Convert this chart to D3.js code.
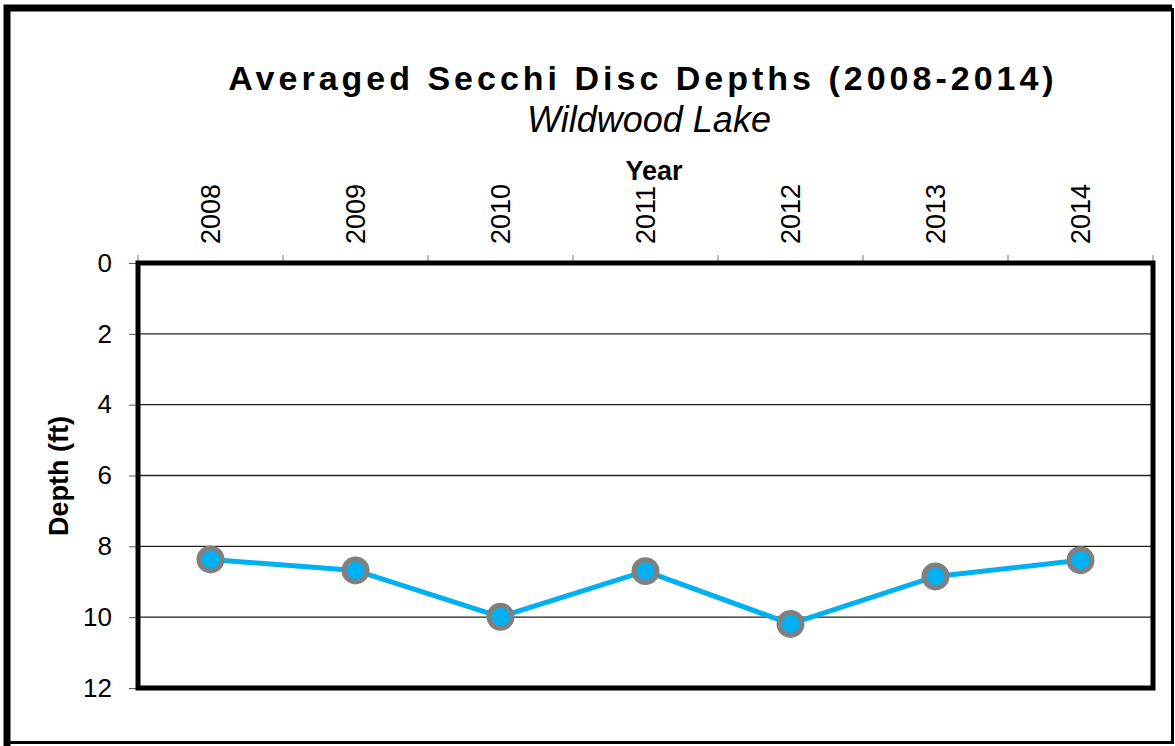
<!DOCTYPE html>
<html>
<head>
<meta charset="utf-8">
<script src="https://cdn.jsdelivr.net/npm/d3@7/dist/d3.min.js"></script>
<style>
  body { margin: 0; background: #fff; }
  svg text { font-family: Arial, "Liberation Sans", sans-serif; }
</style>
</head>
<body>
<svg id="chart" width="1175" height="746"></svg>
<script>
var years = ["2008", "2009", "2010", "2011", "2012", "2013", "2014"]
var depths = [8.37, 8.68, 9.99, 8.70, 10.19, 8.85, 8.39]
var depthTicks = [0, 2, 4, 6, 8, 10, 12]

var svg = d3.select("#chart")

// outer frame: thick left/top, thin right/bottom
svg.append("rect")
    .attr("x", 0).attr("y", 0).attr("width", 1175).attr("height", 746)
    .attr("fill", "#fff")
svg.append("path")
    .attr("d", "M7,746 L7,8 L1172,8")
    .attr("fill", "none").attr("stroke", "#000").attr("stroke-width", 7)
svg.append("path")
    .attr("d", "M7,742.5 L1172.5,742.5 L1172.5,8")
    .attr("fill", "none").attr("stroke", "#000").attr("stroke-width", 3)

var plotLeft = 138, plotRight = 1153, plotTop = 263, plotBottom = 688

var x = d3.scaleBand()
    .domain(years)
    .range([plotLeft, plotRight])

var y = d3.scaleLinear()
    .domain([0, 12])
    .range([plotTop, plotBottom])

// gridlines
svg.append("g")
    .selectAll("line")
    .data(depthTicks.slice(1, -1))
    .enter()
    .append("line")
      .attr("x1", plotLeft).attr("x2", plotRight)
      .attr("y1", d => y(d)).attr("y2", d => y(d))
      .attr("stroke", "#222").attr("stroke-width", 1.3)

// y axis
var yAxis = svg.append("g")
    .attr("transform", "translate(" + plotLeft + ",0)")
    .call(d3.axisLeft(y).tickValues(depthTicks).tickSize(9).tickPadding(17))
yAxis.select(".domain").remove()
yAxis.selectAll("line").attr("stroke", "#555")
yAxis.selectAll("text")
    .attr("font-size", 26).attr("fill", "#000")
    .attr("font-family", "Arial, 'Liberation Sans', sans-serif")

// top ticks at band edges
svg.append("g")
    .selectAll("line")
    .data(years.concat(["end"]))
    .enter()
    .append("line")
      .attr("x1", (d, i) => plotLeft + i * x.bandwidth())
      .attr("x2", (d, i) => plotLeft + i * x.bandwidth())
      .attr("y1", plotTop - 8).attr("y2", plotTop)
      .attr("stroke", "#777").attr("stroke-width", 1)

// year labels, rotated
svg.append("g")
    .selectAll("text")
    .data(years)
    .enter()
    .append("text")
      .attr("transform", d => "translate(" + (x(d) + x.bandwidth() / 2 + 9) + "," + (plotTop - 19) + ") rotate(-90)")
      .attr("font-size", 27)
      .text(d => d)

// plot frame
svg.append("rect")
    .attr("x", plotLeft).attr("y", plotTop)
    .attr("width", plotRight - plotLeft).attr("height", plotBottom - plotTop)
    .attr("fill", "none").attr("stroke", "#000").attr("stroke-width", 5)

// line + markers
var line = d3.line()
    .x((d, i) => x(years[i]) + x.bandwidth() / 2)
    .y(d => y(d))

svg.append("path")
    .datum(depths)
    .attr("d", line)
    .attr("fill", "none")
    .attr("stroke", "#00B0F0")
    .attr("stroke-width", 5)

svg.append("g")
    .selectAll("circle")
    .data(depths)
    .enter()
    .append("circle")
      .attr("cx", (d, i) => x(years[i]) + x.bandwidth() / 2)
      .attr("cy", d => y(d))
      .attr("r", 11.5)
      .attr("fill", "#00B0F0")
      .attr("stroke", "#808080")
      .attr("stroke-width", 5)

// titles
svg.append("text")
    .attr("x", 643).attr("y", 90)
    .attr("text-anchor", "middle")
    .attr("font-size", 34).attr("font-weight", "bold")
    .attr("letter-spacing", 4)
    .text("Averaged Secchi Disc Depths (2008-2014)")

svg.append("text")
    .attr("x", 649).attr("y", 132)
    .attr("text-anchor", "middle")
    .attr("font-size", 36).attr("font-style", "italic")
    .text("Wildwood Lake")

svg.append("text")
    .attr("x", 654).attr("y", 180)
    .attr("text-anchor", "middle")
    .attr("font-size", 27).attr("font-weight", "bold")
    .text("Year")

svg.append("text")
    .attr("transform", "translate(68,476) rotate(-90)")
    .attr("text-anchor", "middle")
    .attr("font-size", 27).attr("font-weight", "bold")
    .text("Depth (ft)")
</script>
</body>
</html>
